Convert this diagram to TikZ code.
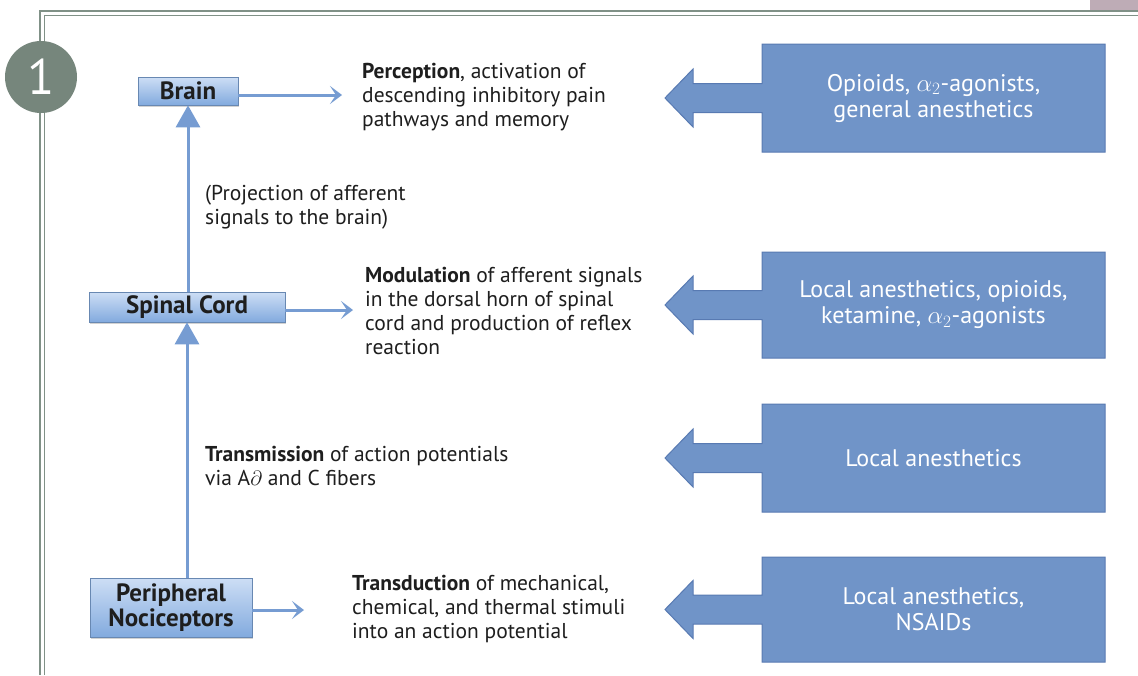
\documentclass[tikz,border=0pt]{standalone}
\usepackage{fontspec}
\setmainfont{PT Sans}
\usetikzlibrary{arrows.meta,shadows}
\definecolor{frame}{RGB}{128,145,135}
\definecolor{circ}{RGB}{118,134,124}
\definecolor{pinkish}{RGB}{190,172,182}
\definecolor{rbox}{RGB}{112,148,200}
\definecolor{rborder}{RGB}{88,122,178}
\definecolor{aline}{RGB}{118,156,210}
\definecolor{btop}{RGB}{205,222,245}
\definecolor{bbot}{RGB}{130,170,222}
\definecolor{txt}{RGB}{30,30,30}
\tikzset{
  leftbox/.style={draw=bbot!80!black, line width=0.6pt, top color=btop, bottom color=bbot,
    drop shadow={shadow xshift=1pt,shadow yshift=-1.5pt,opacity=0.35},
    font=\fontsize{25}{27}\selectfont\bfseries, text=txt, align=center, inner sep=0pt},
  desc/.style={anchor=north west, align=left, font=\fontsize{21.5}{24}\selectfont, text=txt, inner sep=0pt},
  hArrow/.style={draw=aline, line width=3pt, -{Stealth[length=12pt,width=18pt,inset=6pt]}},
  vArrow/.style={draw=aline, line width=3pt, -{Triangle[length=22pt,width=24pt]}},
  rshape/.style={fill=rbox, draw=rborder, line width=1pt},
  rtext/.style={text=white, font=\fontsize{24}{26}\selectfont, align=center}
}
\begin{document}
\begin{tikzpicture}[x=1pt,y=-1pt]
\useasboundingbox (0,0) rectangle (1138,675);
\fill[white] (0,0) rectangle (1138,675);
% frame
\fill[pinkish] (1090,0) rectangle (1138,12);
\draw[frame, line width=1.5pt] (40,675) -- (40,11) -- (1138,11);
\draw[frame, line width=1.2pt] (44.5,675) -- (44.5,15.5) -- (1138,15.5);
% circle
\node[circle, fill=circ, minimum size=72pt, inner sep=0pt, text=white, font=\fontsize{50}{50}\selectfont] (num) at (41,77) {1};
% left boxes
\node[leftbox, minimum width=100pt, minimum height=28pt] (brain) at (188,91) {Brain};
\node[leftbox, minimum width=196pt, minimum height=30pt] (spinal) at (187,307) {Spinal Cord};
\node[leftbox, minimum width=162pt, minimum height=59pt] (periph) at (171,607.5) {Peripheral\\[-2pt]Nociceptors};
% vertical arrows
\draw[vArrow] (periph.north -| spinal.south) -- (spinal.south);
\draw[vArrow] (spinal.north -| brain.south) -- (brain.south);
% descriptions
\node[desc] (perc) at (362,63) {\textbf{Perception}, activation of\\descending inhibitory pain\\pathways and memory};
\node[desc] (proj) at (205,185) {(Projection of afferent\\signals to the brain)};
\node[desc] (modu) at (365,267) {\textbf{Modulation} of afferent signals\\in the dorsal horn of spinal\\cord and production of reflex\\reaction};
\node[desc] (trans) at (205,446) {\textbf{Transmission} of action potentials\\via A$\partial$ and C fibers};
\node[desc] (transd) at (352,575) {\textbf{Transduction} of mechanical,\\chemical, and thermal stimuli\\into an action potential};
% horizontal arrows
\coordinate (pe) at (342,95);
\coordinate (me) at (353,310);
\coordinate (te) at (304,610);
\draw[hArrow] (brain.east |- pe) -- (pe);
\draw[hArrow] (spinal.east |- me) -- (me);
\draw[hArrow] (periph.east |- te) -- (te);
% right arrows
\foreach \n/\yt/\yb in {1/44/152, 2/252/358, 3/404/512, 4/557/662}{
  \pgfmathsetmacro{\ym}{(\yt+\yb)/2}
  \draw[rshape] (665,\ym) -- (693,\ym-29) -- (693,\ym-14.5) -- (762,\ym-14.5) -- (762,\yt)
     -- (1105,\yt) -- (1105,\yb) -- (762,\yb) -- (762,\ym+14.5) -- (693,\ym+14.5) -- (693,\ym+29) -- cycle;
  \coordinate (rc\n) at (933.5,\ym);
}
\node[rtext] (r1) at (rc1) {Opioids, $\alpha_2$-agonists,\\general anesthetics};
\node[rtext] (r2) at (rc2) {Local anesthetics, opioids,\\ketamine, $\alpha_2$-agonists};
\node[rtext] (r3) at (rc3) {Local anesthetics};
\node[rtext] (r4) at (rc4) {Local anesthetics,\\NSAIDs};
\end{tikzpicture}
\end{document}
